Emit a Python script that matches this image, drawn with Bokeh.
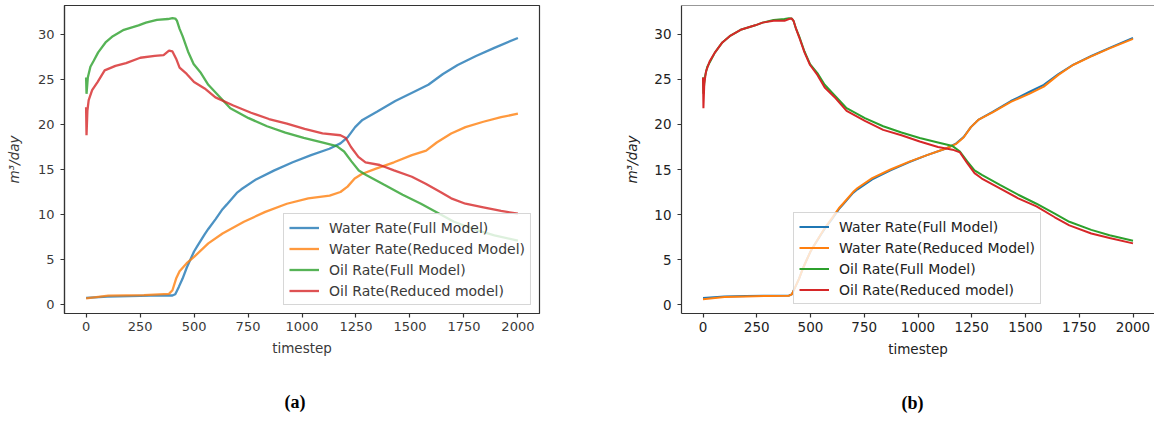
from bokeh.plotting import figure
from bokeh.layouts import row
from bokeh.models import Range1d, FixedTicker, Span, Legend, LegendItem
from bokeh.embed import file_html
from bokeh.resources import INLINE

# ---------------- data ----------------
LABELS = ["Water Rate(Full Model)", "Water Rate(Reduced Model)",
          "Oil Rate(Full Model)", "Oil Rate(Reduced model)"]
COLORS = ["#1f77b4", "#ff7f0e", "#2ca02c", "#d62728"]
X_TICKS = [0, 250, 500, 750, 1000, 1250, 1500, 1750, 2000]
Y_TICKS = [0, 5, 10, 15, 20, 25, 30]
X_LABEL = "timestep"
Y_LABEL = "m³/day"
CAPTIONS = ["(a)", "(b)"]

# Full model (same in both panels)
water_full_t = [0, 100, 200, 300, 400, 413, 430, 447, 466, 481, 500, 515, 549, 566, 600,
                632, 651, 698, 719, 787, 872, 957, 1042, 1127, 1178, 1212, 1246, 1280,
                1347, 1432, 1517, 1585, 1653, 1721, 1806, 1891, 2000]
water_full_v = [0.75, 0.9, 0.95, 1.0, 1.02, 1.15, 2.0, 2.9, 4.1, 4.9, 5.9, 6.5, 7.8, 8.4, 9.5,
                10.6, 11.1, 12.4, 12.8, 13.9, 14.9, 15.8, 16.6, 17.3, 17.9, 18.6, 19.7, 20.5,
                21.4, 22.6, 23.6, 24.4, 25.6, 26.6, 27.6, 28.5, 29.6]
oil_full_t = [0, 2, 8, 20, 36, 56, 90, 124, 175, 243, 277, 328, 379, 400, 413, 421, 433,
              447, 472, 498, 532, 566, 617, 668, 753, 838, 923, 1008, 1093, 1161, 1195,
              1229, 1263, 1297, 1381, 1466, 1551, 1636, 1704, 1806, 1891, 2000]
oil_full_v = [25.2, 23.4, 25.2, 26.4, 27.1, 28.0, 29.1, 29.8, 30.5, 31.0, 31.3, 31.6, 31.7,
              31.8, 31.75, 31.5, 30.6, 29.8, 28.1, 26.7, 25.7, 24.4, 23.1, 21.8, 20.7, 19.8,
              19.1, 18.5, 18.0, 17.6, 17.0, 15.9, 14.9, 14.4, 13.3, 12.2, 11.2, 10.1, 9.2,
              8.3, 7.7, 7.1]

# Reduced model, panel (a)
water_red_a_t = [0, 103, 268, 384, 400, 417, 433, 466, 500, 566, 632, 731, 830, 930, 1029,
                 1128, 1178, 1211, 1244, 1277, 1343, 1426, 1509, 1575, 1624, 1691, 1757,
                 1840, 1922, 2000]
water_red_a_v = [0.7, 1.0, 1.07, 1.2, 1.6, 2.9, 3.7, 4.6, 5.3, 6.8, 7.9, 9.2, 10.3, 11.2,
                 11.8, 12.1, 12.5, 13.1, 14.0, 14.5, 15.1, 15.8, 16.6, 17.1, 18.0, 19.0,
                 19.7, 20.3, 20.8, 21.2]
oil_red_a_t = [0, 2, 6, 12, 28, 53, 86, 136, 185, 251, 318, 359, 384, 400, 417, 433, 466,
               500, 549, 599, 682, 764, 847, 930, 1012, 1095, 1178, 1203, 1227, 1261, 1294,
               1360, 1426, 1509, 1575, 1641, 1691, 1757, 1840, 1922, 2000]
oil_red_a_v = [21.9, 18.8, 21.5, 22.7, 23.8, 24.7, 26.0, 26.5, 26.8, 27.4, 27.6, 27.7, 28.2,
               28.1, 27.3, 26.3, 25.6, 24.7, 24.0, 23.0, 22.1, 21.3, 20.6, 20.1, 19.5, 19.0,
               18.8, 18.5, 17.5, 16.4, 15.8, 15.5, 14.9, 14.2, 13.4, 12.5, 11.8, 11.2, 10.8,
               10.4, 10.1]

# Reduced model, panel (b)
water_red_b_t = [0, 100, 200, 300, 400, 413, 430, 447, 466, 481, 500, 515, 549, 566, 600,
                 632, 651, 698, 719, 787, 872, 957, 1042, 1127, 1178, 1212, 1246, 1280,
                 1347, 1432, 1517, 1585, 1653, 1721, 1806, 1891, 2000]
water_red_b_v = [0.6, 0.85, 0.92, 0.97, 1.0, 1.15, 2.0, 2.9, 4.1, 4.9, 5.9, 6.5, 7.85, 8.5,
                 9.6, 10.7, 11.2, 12.5, 12.95, 14.05, 15.0, 15.85, 16.6, 17.3, 17.85, 18.55,
                 19.7, 20.5, 21.35, 22.5, 23.4, 24.2, 25.5, 26.6, 27.55, 28.45, 29.5]
oil_red_b_t = [0, 2, 6, 14, 31, 56, 90, 124, 175, 243, 277, 328, 379, 400, 413, 421, 433,
               447, 472, 498, 532, 566, 617, 668, 753, 838, 923, 1008, 1093, 1161, 1195,
               1229, 1263, 1297, 1381, 1466, 1551, 1636, 1704, 1806, 1891, 2000]
oil_red_b_v = [25.2, 21.8, 24.5, 25.9, 27.0, 28.0, 29.1, 29.8, 30.5, 31.0, 31.3, 31.5, 31.5,
               31.7, 31.75, 31.5, 30.6, 29.7, 28.0, 26.6, 25.5, 24.1, 22.9, 21.5, 20.4, 19.4,
               18.8, 18.1, 17.5, 17.2, 16.9, 15.7, 14.6, 14.0, 12.9, 11.8, 10.9, 9.7, 8.8,
               7.9, 7.4, 6.8]

series_a = [(water_full_t, water_full_v), (water_red_a_t, water_red_a_v),
            (oil_full_t, oil_full_v), (oil_red_a_t, oil_red_a_v)]
series_b = [(water_full_t, water_full_v), (water_red_b_t, water_red_b_v),
            (oil_full_t, oil_full_v), (oil_red_b_t, oil_red_b_v)]

FONT = "DejaVu Sans"
Y_MIN, Y_MAX = -0.98, 33.2


def panel(series, caption, alpha, lw, frame_w, b_left, b_right, tick_fs, text_col,
          ylab_standoff, legend_loc, full_outline):
    p = figure(frame_width=frame_w, frame_height=308,
               x_range=Range1d(-100, 2100), y_range=Range1d(Y_MIN, Y_MAX),
               output_backend="svg", toolbar_location=None,
               min_border_left=b_left, min_border_right=b_right,
               min_border_top=5, min_border_bottom=0,
               title=caption, title_location="below",
               background_fill_color="white", border_fill_color="white")
    p.grid.visible = False
    p.title.align = "left"
    p.title.offset = 220
    p.title.text_font = "Liberation Serif"
    p.title.text_font_style = "bold"
    p.title.text_font_size = "18px"
    p.title.text_color = "black"
    p.title.standoff = 62

    p.xaxis.ticker = FixedTicker(ticks=X_TICKS)
    p.yaxis.ticker = FixedTicker(ticks=Y_TICKS)
    p.xaxis.axis_label = X_LABEL
    p.yaxis.axis_label = Y_LABEL
    for ax in (p.xaxis[0], p.yaxis[0]):
        ax.axis_line_color = "#333333"
        ax.axis_line_width = 1.2
        ax.major_tick_line_color = "#333333"
        ax.major_tick_line_width = 1.2
        ax.major_tick_out = 4
        ax.major_tick_in = 0
        ax.minor_tick_line_color = None
        ax.major_label_text_font = FONT
        ax.major_label_text_font_size = tick_fs
        ax.major_label_text_color = text_col
        ax.axis_label_text_font = FONT
        ax.axis_label_text_font_size = "13.5px"
        ax.axis_label_text_color = text_col
    p.xaxis.major_label_standoff = 4
    p.xaxis.axis_label_standoff = 6
    p.xaxis.axis_label_text_font_style = "normal"
    p.yaxis.major_label_standoff = 6
    p.yaxis.axis_label_standoff = ylab_standoff
    p.yaxis.axis_label_text_font_style = "italic"

    if full_outline:
        p.outline_line_color = "#333333"
        p.outline_line_width = 1.2
    else:
        p.outline_line_color = None
        p.add_layout(Span(location=Y_MAX, dimension="width", line_color="#333333",
                          line_width=1.2))

    items = []
    for (t, v), lab, col in zip(series, LABELS, COLORS):
        r = p.line(t, v, line_color=col, line_width=lw, line_alpha=alpha)
        items.append(LegendItem(label=lab, renderers=[r]))
    leg = Legend(items=items, location=legend_loc, margin=8, padding=5, spacing=4,
                 glyph_width=30, glyph_height=17, label_height=17, label_standoff=10,
                 label_text_font=FONT, label_text_font_size="14px",
                 label_text_color=text_col,
                 border_line_color="#cccccc", border_line_alpha=0.8, border_line_width=1,
                 background_fill_color="white", background_fill_alpha=0.8)
    p.add_layout(leg)
    return p


pa = panel(series_a, CAPTIONS[0], 0.8, 2.3, 475, 64, 61, "13px", "#3a3a3a", 13,
           "bottom_right", True)
pb = panel(series_b, CAPTIONS[1], 1.0, 2, 473, 81, 0, "13.5px", "#222222", 11,
           (112, 9), False)

layout = row(pa, pb)
open("out.html", "w").write(file_html(layout, INLINE))
